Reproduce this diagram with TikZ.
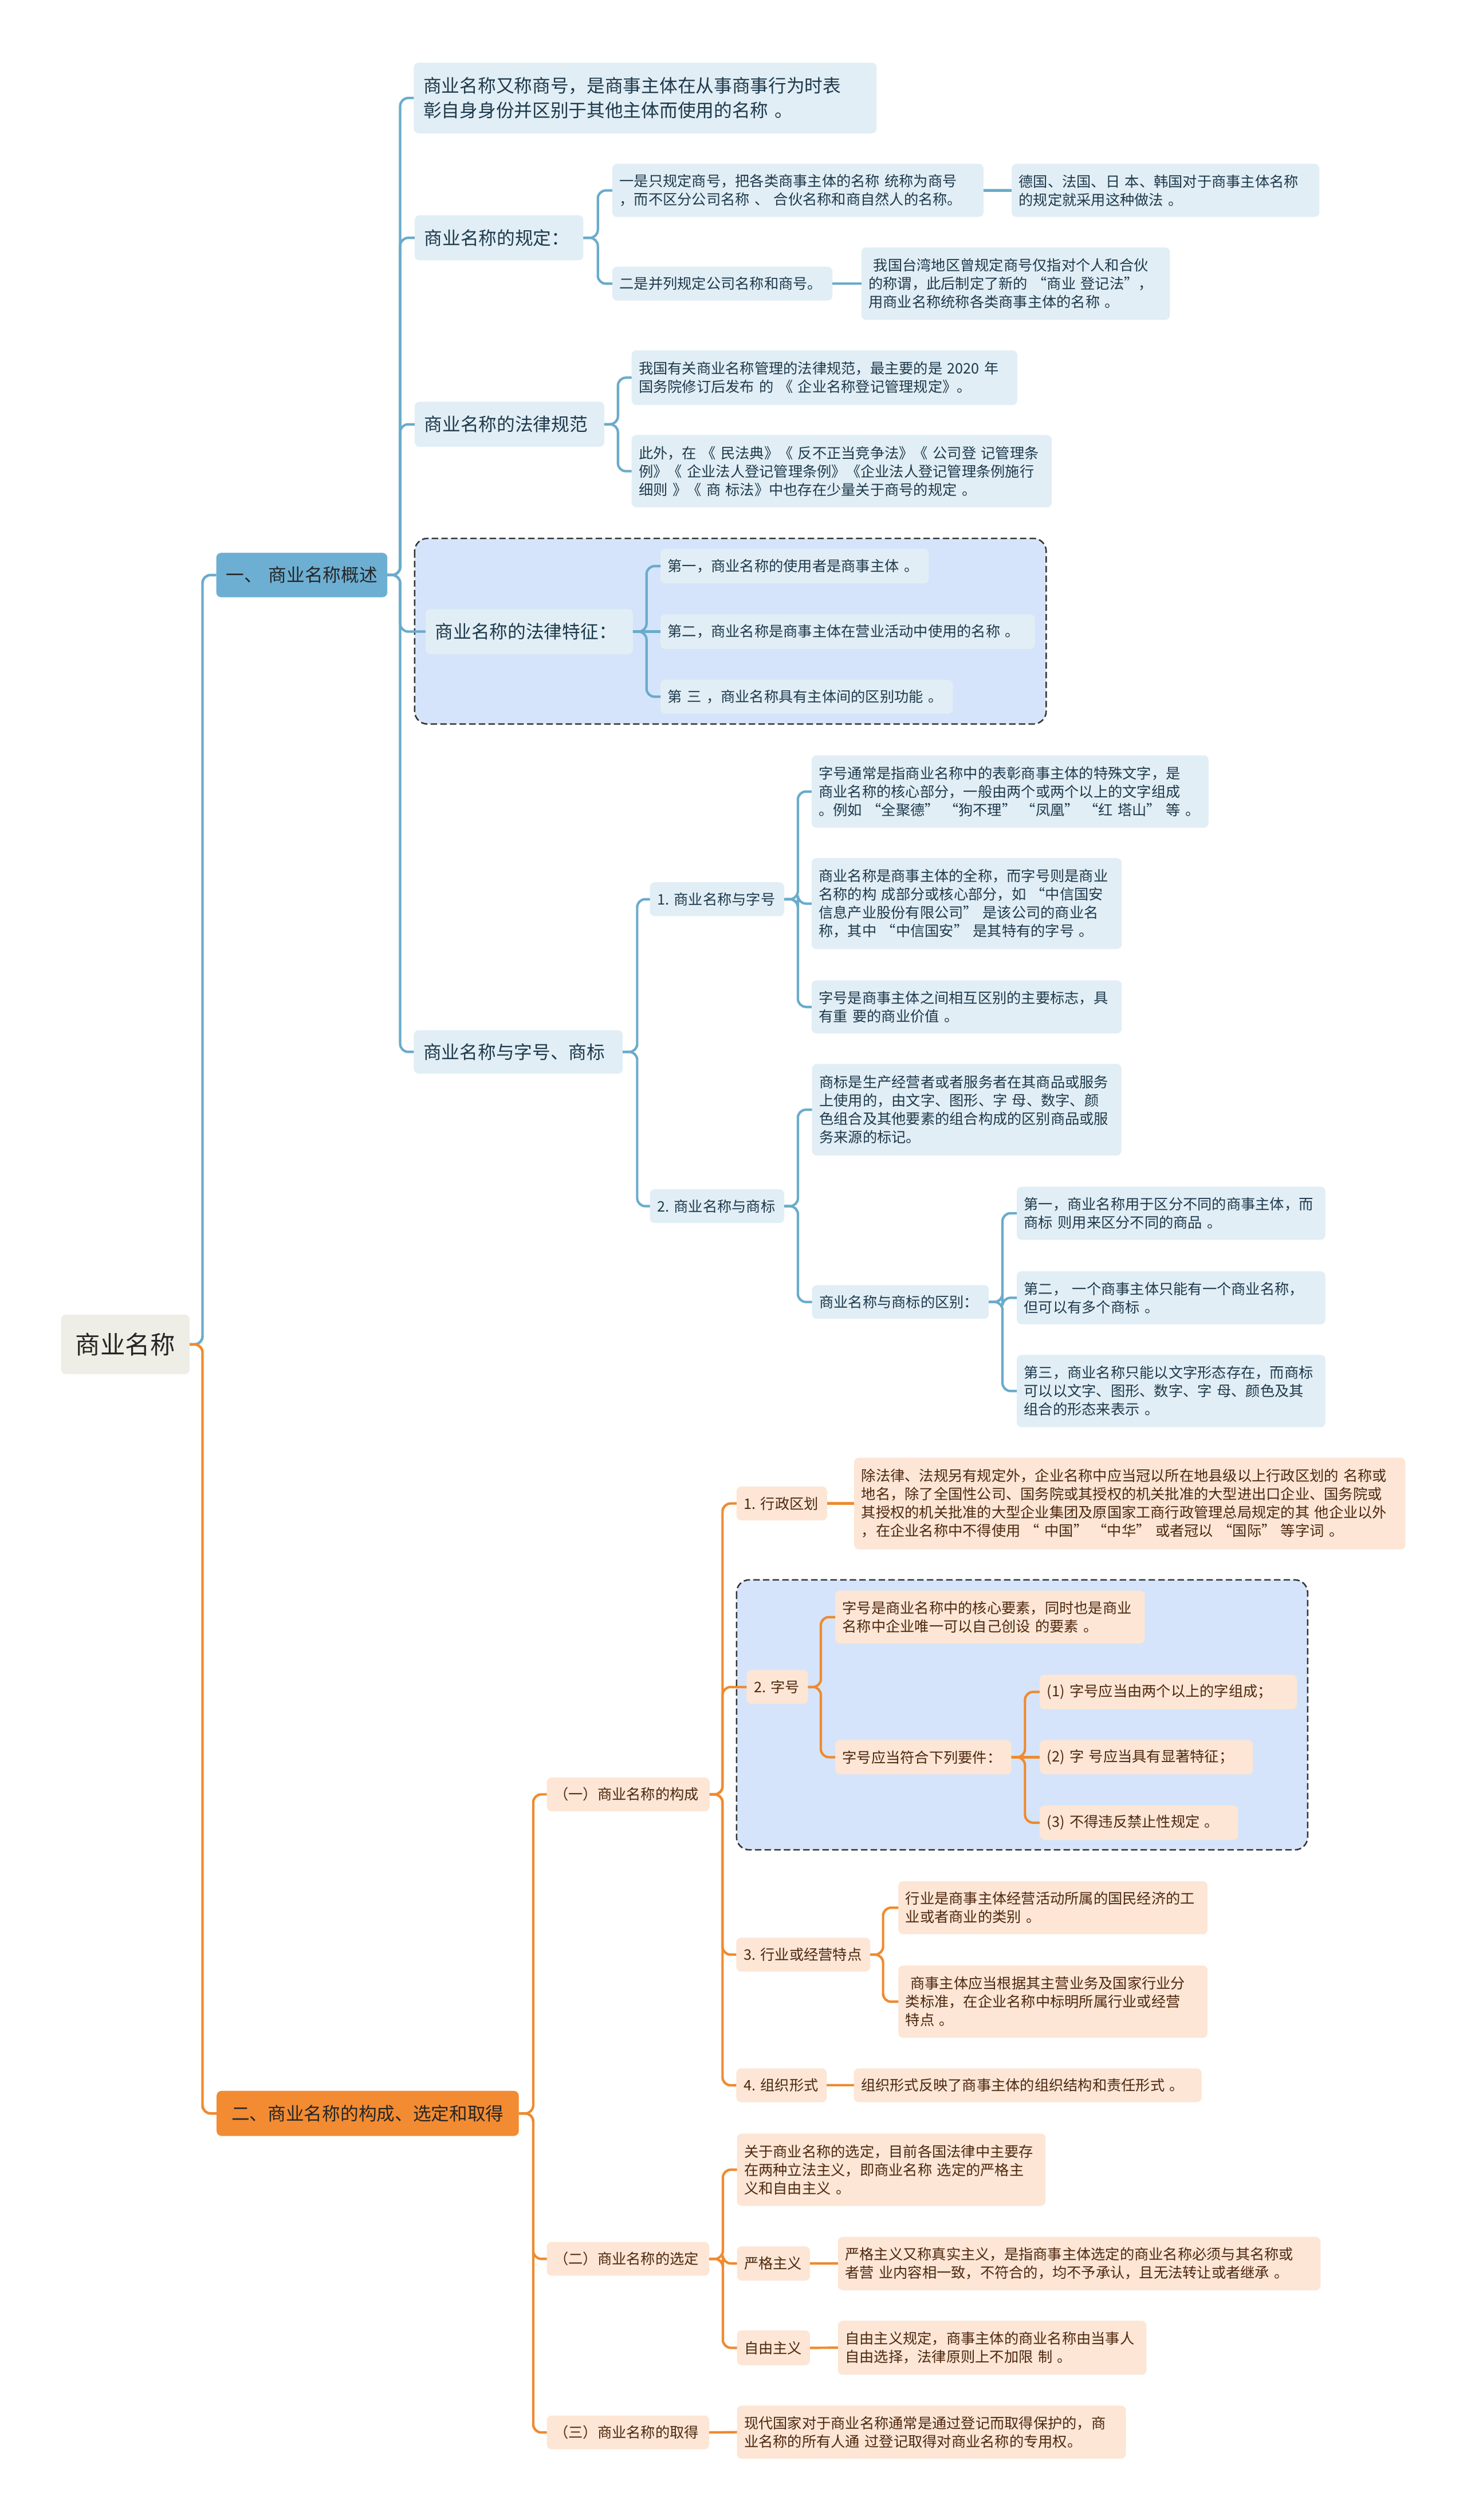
\documentclass[tikz,border=0pt]{standalone}
\usepackage{fontspec}
\setmainfont{Noto Sans CJK SC}
\usepackage{tikz}
\usepackage{xcolor}

\definecolor{lineblue}{HTML}{6AABCB}
\definecolor{headblue}{HTML}{6DAFD2}
\definecolor{paleblue}{HTML}{E1EEF6}
\definecolor{groupblue}{HTML}{D5E4FA}
\definecolor{inkblue}{HTML}{1F3A4C}
\definecolor{lineorange}{HTML}{EF8A2F}
\definecolor{headorange}{HTML}{F28B32}
\definecolor{paleorange}{HTML}{FDE6D5}
\definecolor{inkbrown}{HTML}{4F2810}
\definecolor{rootgray}{HTML}{EEEEE6}

\newcommand{\leaffont}{\fontsize{9}{11.4}\selectfont}
\newcommand{\midfont}{\fontsize{11.3}{15.5}\selectfont}
\newcommand{\rootfont}{\fontsize{15.5}{18}\selectfont}

\tikzset{
    mmbox/.style={anchor=north west, rounded corners=3pt, inner xsep=4.5pt, inner ysep=0pt, outer sep=0pt, align=left, font=\leaffont},
    wh/.style 2 args={text width=#1pt, minimum height=#2pt},
    rootbox/.style={mmbox, fill=rootgray, text=black!85, inner xsep=6pt, align=center, font=\rootfont},
    topblue/.style={mmbox, fill=headblue, text=black!85, inner xsep=6pt, align=center, font=\midfont},
    midblue/.style={mmbox, fill=paleblue, text=inkblue, inner xsep=6pt, font=\midfont},
    leafblue/.style={mmbox, fill=paleblue, text=inkblue},
    toporange/.style={mmbox, fill=headorange, text=black!85, inner xsep=6pt, align=center, font=\midfont},
    leaforange/.style={mmbox, fill=paleorange, text=inkbrown},
    bline/.style={draw=lineblue, line width=1.5pt, rounded corners=5pt},
    oline/.style={draw=lineorange, line width=1.5pt, rounded corners=5pt},
    groupbox/.style={draw=black!80, fill=groupblue, line width=0.9pt, dash pattern=on 4pt off 2pt, rounded corners=8pt},
}

\begin{document}
\begin{tikzpicture}[x=1pt, y=-1pt]

    \fill[white] (0,0) rectangle (912.5,1568);
    \useasboundingbox (0,0) rectangle (912.5,1568);

    % dashed groups
    \draw[groupbox] (258,335) rectangle ++(393,115.5);
    \draw[groupbox] (458.3,983) rectangle ++(355.4,168);

    \node[rootbox, wh={68}{37}] (R) at (38,818) {商业名称};
    \node[topblue, wh={94.4}{27.6}] (T1) at (134.6,344) {一、~商业名称概述};
    \node[toporange, wh={176}{28}] (T2) at (134.8,1301) {二、商业名称的构成、选定和取得};

    % blue branch
    \node[midblue, wh={276}{44}] (A1) at (257.5,39) {商业名称又称商号，是商事主体在从事商事行为时表\\彰自身身份并区别于其他主体而使用的名称~。};
    \node[midblue, wh={93}{28}] (A2) at (258,134) {商业名称的规定：};
    \node[midblue, wh={106}{28}] (A3) at (258,250) {商业名称的法律规范};
    \node[midblue, wh={117}{28}] (A4) at (264.8,379) {商业名称的法律特征：};
    \node[midblue, wh={118}{27}] (A5) at (257.5,641) {商业名称与字号、商标};

    \node[leafblue, wh={222}{33}] (B1) at (381,102) {一是只规定商号，把各类商事主体的名称~统称为商号\\，而不区分公司名称~、~合伙名称和商自然人的名称。};
    \node[leafblue, wh={182.5}{33}] (B2) at (629.5,102) {德国、法国、日~本、韩国对于商事主体名称\\的规定就采用这种做法~。};
    \node[leafblue, wh={128}{21}] (B3) at (381,166) {二是并列规定公司名称和商号。};
    \node[leafblue, wh={183}{45}] (B4) at (536,154) {~我国台湾地区曾规定商号仅指对个人和合伙\\的称谓，此后制定了新的~“商业~登记法”，\\用商业名称统称各类商事主体的名称~。};

    \node[leafblue, wh={231}{34}] (C1) at (393,218) {我国有关商业名称管理的法律规范，最主要的是~2020~年\\国务院修订后发布~的~《~企业名称登记管理规定》。};
    \node[leafblue, wh={252.4}{45}] (C2) at (393,270.7) {此外，在~《~民法典》《~反不正当竞争法》《~公司登~记管理条\\例》《~企业法人登记管理条例》《企业法人登记管理条例施行\\细则~》《~商~标法》中也存在少量关于商号的规定~。};

    \node[leafblue, wh={158}{21.5}] (D1) at (411,341.5) {第一，商业名称的使用者是商事主体~。};
    \node[leafblue, wh={224}{21.6}] (D2) at (411,382.2) {第二，商业名称是商事主体在营业活动中使用的名称~。};
    \node[leafblue, wh={173}{21}] (D3) at (411,423) {第~三~，商业名称具有主体间的区别功能~。};

    \node[leafblue, wh={74.6}{21}] (E1) at (404.4,549) {1.~商业名称与字号};
    \node[leafblue, wh={238}{45}] (F1) at (505,470) {字号通常是指商业名称中的表彰商事主体的特殊文字，是\\商业名称的核心部分，一般由两个或两个以上的文字组成\\。例如~“全聚德”~“狗不理”~“凤凰”~“红~塔山”~等~。};
    \node[leafblue, wh={184}{56.5}] (F2) at (505,534) {商业名称是商事主体的全称，而字号则是商业\\名称的构~成部分或核心部分，如~“中信国安\\信息产业股份有限公司”~是该公司的商业名\\称，其中~“中信国安”~是其特有的字号~。};
    \node[leafblue, wh={184}{33}] (F3) at (505,610) {字号是商事主体之间相互区别的主要标志，具\\有重~要的商业价值~。};

    \node[leafblue, wh={74.6}{21}] (E2) at (404.4,740) {2.~商业名称与商标};
    \node[leafblue, wh={183.5}{57}] (G1) at (505.3,662) {商标是生产经营者或者服务者在其商品或服务\\上使用的，由文字、图形、字~母、数字、颜\\色组合及其他要素的组合构成的区别商品或服\\务来源的标记。};
    \node[leafblue, wh={101}{21}] (G2) at (505.3,799.6) {商业名称与商标的区别：};
    \node[leafblue, wh={183}{33}] (H1) at (632.7,738.4) {第一，商业名称用于区分不同的商事主体，而\\商标~则用来区分不同的商品~。};
    \node[leafblue, wh={183}{33}] (H2) at (632.7,791) {第二，~一个商事主体只能有一个商业名称，\\但可以有多个商标~。};
    \node[leafblue, wh={183}{45}] (H3) at (632.7,843) {第三，商业名称只能以文字形态存在，而商标\\可以以文字、图形、数字、字~母、颜色及其\\组合的形态来表示~。};

    % orange branch
    \node[leaforange, wh={92.3}{21}] (I1) at (340.3,1106) {（一）商业名称的构成};
    \node[leaforange, wh={92}{21}] (I2) at (340.3,1395) {（二）商业名称的选定};
    \node[leaforange, wh={92}{21}] (I3) at (340.3,1503) {（三）商业名称的取得};

    \node[leaforange, wh={47.4}{21}] (J1) at (458.3,925) {1.~行政区划};
    \node[leaforange, wh={334}{57}] (J1c) at (531.5,907) {除法律、法规另有规定外，企业名称中应当冠以所在地县级以上行政区划的~名称或\\地名，除了全国性公司、国务院或其授权的机关批准的大型进出口企业、国务院或\\其授权的机关批准的大型企业集团及原国家工商行政管理总局规定的其~他企业以外\\，在企业名称中不得使用~“~中国”~“中华”~或者冠以~“国际”~等字词~。};

    \node[leaforange, wh={29.2}{21}] (J2) at (464.6,1039.2) {2.~字号};
    \node[leaforange, wh={183.6}{33}] (K1) at (519.7,989.7) {字号是商业名称中的核心要素，同时也是商业\\名称中企业唯一可以自己创设~的要素~。};
    \node[leaforange, wh={100.6}{21.3}] (K2) at (519.7,1082.7) {字号应当符合下列要件：};
    \node[leaforange, wh={151}{21.5}] (L1) at (647,1042) {(1)~字号应当由两个以上的字组成；};
    \node[leaforange, wh={123.7}{21.3}] (L2) at (647,1082.7) {(2)~字~号应当具有显著特征；};
    \node[leaforange, wh={114.4}{21.4}] (L3) at (647,1123.4) {(3)~不得违反禁止性规定~。};

    \node[leaforange, wh={74.3}{21}] (J3) at (458.2,1205.7) {3.~行业或经营特点};
    \node[leaforange, wh={183.4}{33}] (M1) at (559,1170.5) {行业是商事主体经营活动所属的国民经济的工\\业或者商业的类别~。};
    \node[leaforange, wh={183.4}{45}] (M2) at (559,1223) {~商事主体应当根据其主营业务及国家行业分\\类标准，在企业名称中标明所属行业或经营\\特点~。};

    \node[leaforange, wh={47.3}{21}] (J4) at (458.2,1287) {4.~组织形式};
    \node[leaforange, wh={207.4}{21}] (N1) at (531.3,1287) {组织形式反映了商事主体的组织结构和责任形式~。};

    \node[leaforange, wh={183}{45}] (O1) at (458.6,1327.5) {关于商业名称的选定，目前各国法律中主要存\\在两种立法主义，即商业名称~选定的严格主\\义和自由主义~。};
    \node[leaforange, wh={36.4}{21.3}] (O2) at (458.6,1397.7) {严格主义};
    \node[leaforange, wh={291.3}{33.2}] (O2c) at (521.4,1391.8) {严格主义又称真实主义，是指商事主体选定的商业名称必须与其名称或\\者营~业内容相一致，不符合的，均不予承认，且无法转让或者继承~。};
    \node[leaforange, wh={36.4}{21.7}] (O3) at (458.6,1450) {自由主义};
    \node[leaforange, wh={183}{33.6}] (O3c) at (521.4,1444) {自由主义规定，商事主体的商业名称由当事人\\自由选择，法律原则上不加限~制~。};

    \node[leaforange, wh={233}{33}] (P1) at (458.6,1496.8) {现代国家对于商业名称通常是通过登记而取得保护的，商\\业名称的所有人通~过登记取得对商业名称的专用权。};

    % connectors
    \draw[bline, line width=1.6pt] (R.east) -- ++(8,0) |- (T1.west);
    \draw[oline, line width=1.6pt] (R.east) -- ++(8,0) |- (T2.west);

    \draw[bline] (T1.east) -- ++(8,0) |- (A1.west);
    \draw[bline] (T1.east) -- ++(8,0) |- (A2.west);
    \draw[bline] (T1.east) -- ++(8,0) |- (A3.west);
    \draw[bline] (T1.east) -- ++(8,0) |- (A4.west);
    \draw[bline] (T1.east) -- ++(8,0) |- (A5.west);

    \draw[bline] (A2.east) -- ++(9,0) |- (B1.west);
    \draw[bline] (A2.east) -- ++(9,0) |- (B3.west);
    \draw[bline] (B1.east) -- (B2.west);
    \draw[bline] (B3.east) -- (B4.west);

    \draw[bline] (A3.east) -- ++(8.5,0) |- (C1.west);
    \draw[bline] (A3.east) -- ++(8.5,0) |- (C2.west);

    \draw[bline] (A4.east) -- ++(8.5,0) |- (D1.west);
    \draw[bline] (A4.east) -- (D2.west);
    \draw[bline] (A4.east) -- ++(8.5,0) |- (D3.west);

    \draw[bline] (A5.east) -- ++(9,0) |- (E1.west);
    \draw[bline] (A5.east) -- ++(9,0) |- (E2.west);
    \draw[bline] (E1.east) -- ++(8.5,0) |- (F1.west);
    \draw[bline] (E1.east) -- ++(8.5,0) |- (F2.west);
    \draw[bline] (E1.east) -- ++(8.5,0) |- (F3.west);
    \draw[bline] (E2.east) -- ++(8.5,0) |- (G1.west);
    \draw[bline] (E2.east) -- ++(8.5,0) |- (G2.west);
    \draw[bline] (G2.east) -- ++(8.5,0) |- (H1.west);
    \draw[bline] (G2.east) -- ++(8.5,0) |- (H2.west);
    \draw[bline] (G2.east) -- ++(8.5,0) |- (H3.west);

    \draw[oline] (T2.east) -- ++(9,0) |- (I1.west);
    \draw[oline] (T2.east) -- ++(9,0) |- (I2.west);
    \draw[oline] (T2.east) -- ++(9,0) |- (I3.west);

    \draw[oline] (I1.east) -- ++(8,0) |- (J1.west);
    \draw[oline] (I1.east) -- ++(8,0) |- (J2.west);
    \draw[oline] (I1.east) -- ++(8,0) |- (J3.west);
    \draw[oline] (I1.east) -- ++(8,0) |- (J4.west);
    \draw[oline] (J1.east) -- (J1c.west);
    \draw[oline] (J2.east) -- ++(8,0) |- (K1.west);
    \draw[oline] (J2.east) -- ++(8,0) |- (K2.west);
    \draw[oline] (K2.east) -- ++(8.5,0) |- (L1.west);
    \draw[oline] (K2.east) -- (L2.west);
    \draw[oline] (K2.east) -- ++(8.5,0) |- (L3.west);
    \draw[oline] (J3.east) -- ++(8,0) |- (M1.west);
    \draw[oline] (J3.east) -- ++(8,0) |- (M2.west);
    \draw[oline] (J4.east) -- (N1.west);

    \draw[oline] (I2.east) -- ++(8.5,0) |- (O1.west);
    \draw[oline] (I2.east) -- ++(8.5,0) |- (O2.west);
    \draw[oline] (I2.east) -- ++(8.5,0) |- (O3.west);
    \draw[oline] (O2.east) -- (O2c.west);
    \draw[oline] (O3.east) -- (O3c.west);
    \draw[oline] (I3.east) -- (P1.west);

\end{tikzpicture}
\end{document}
